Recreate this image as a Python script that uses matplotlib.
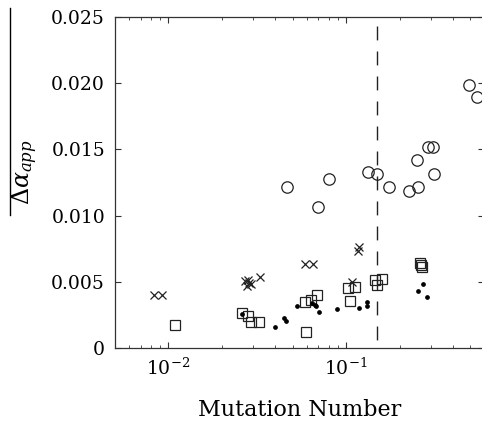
import matplotlib
matplotlib.use("Agg")
import matplotlib.pyplot as plt
from matplotlib.lines import Line2D
from matplotlib.ticker import LogLocator, NullFormatter

plt.rcParams['font.family'] = ['DejaVu Serif']
plt.rcParams['mathtext.fontset'] = 'dejavuserif'

# circles
circ_x = [0.0468, 0.0698, 0.0799, 0.1333, 0.149, 0.1753, 0.2254, 0.254, 0.250,
          0.2884, 0.310, 0.3128, 0.494, 0.544]
circ_y = [0.01218, 0.01068, 0.01274, 0.01329, 0.01312, 0.01218, 0.01188, 0.01214,
          0.0142, 0.0152, 0.0152, 0.01312, 0.01983, 0.01897]

# crosses
cross_x = [0.00834, 0.00919, 0.0270, 0.0277, 0.0284, 0.0292, 0.0279, 0.0328,
           0.0588, 0.0654, 0.1184, 0.1170, 0.1085]
cross_y = [0.00402, 0.00402, 0.00505, 0.00470, 0.00490, 0.00485, 0.00515, 0.00535,
           0.00633, 0.00633, 0.00766, 0.00736, 0.00498]

# squares
sq_x = [0.0109, 0.0259, 0.0282, 0.0292, 0.0325, 0.0596, 0.0590, 0.0635, 0.0689,
        0.1031, 0.1124, 0.1053, 0.1455, 0.1588, 0.149, 0.2606, 0.266, 0.263]
sq_y = [0.00176, 0.00268, 0.00246, 0.00201, 0.00201, 0.00121, 0.00351, 0.00364, 0.00402,
        0.00452, 0.00460, 0.00357, 0.00515, 0.00520, 0.00477, 0.00641, 0.00611, 0.00630]

# dots
dot_x = [0.0261, 0.0398, 0.0450, 0.0460, 0.0528, 0.0641, 0.0665, 0.0680, 0.0708,
         0.0893, 0.1189, 0.1309, 0.1319, 0.272, 0.255, 0.2845]
dot_y = [0.00259, 0.00163, 0.00226, 0.00208, 0.00321, 0.00340, 0.00330, 0.00318, 0.00271,
         0.00296, 0.00306, 0.00351, 0.00321, 0.00483, 0.00434, 0.00389]

threshold = 0.149
yticks = [0, 0.005, 0.010, 0.015, 0.020, 0.025]
ytick_labels = ["0", "0.005", "0.010", "0.015", "0.020", "0.025"]

fig = plt.figure(figsize=(4.82, 4.28), dpi=100)
ax = fig.add_axes([0.2382, 0.1862, 0.7666, 0.7748])

ax.plot(circ_x, circ_y, 'o', mfc='none', mec='#222222', ms=8.2, mew=0.9, ls='none')
ax.plot(cross_x, cross_y, 'x', color='#222222', ms=6.0, mew=0.9, ls='none')
ax.plot(sq_x, sq_y, 's', mfc='none', mec='#222222', ms=6.8, mew=0.9, ls='none')
ax.plot(dot_x, dot_y, 'o', color='black', ms=2.4, ls='none')

ax.plot([threshold, threshold], [0.0243, 0], color='#222222', lw=1.0, ls=(0, (10, 8)))

ax.set_xscale('log')
ax.set_xlim(0.005, 0.6)
ax.set_ylim(0, 0.025)
ax.set_yticks(yticks)
ax.set_yticklabels(ytick_labels)
ax.xaxis.set_major_locator(LogLocator(base=10, numticks=10))
ax.xaxis.set_minor_locator(LogLocator(base=10, subs=range(2, 10), numticks=10))
ax.xaxis.set_minor_formatter(NullFormatter())

ax.tick_params(which='both', direction='in', top=True, right=True, labelsize=13.5,
               color='#333333')
ax.tick_params(which='major', length=4.5, width=0.8, pad=7)
ax.tick_params(which='minor', length=2.5, width=0.6)
for s in ax.spines.values():
    s.set_linewidth(0.9)
    s.set_color('#333333')

ax.set_xlabel('Mutation Number', fontsize=16, labelpad=14)
fig.text(25 / 482, 1 - 172 / 428, r'$\Delta\alpha_{app}$', rotation=90,
         fontsize=17, ha='center', va='center')
fig.add_artist(Line2D([10 / 482, 10 / 482], [1 - 8 / 428, 1 - 215 / 428],
                      transform=fig.transFigure, color='black', lw=1.0))

fig.savefig('out.png', dpi=100)
